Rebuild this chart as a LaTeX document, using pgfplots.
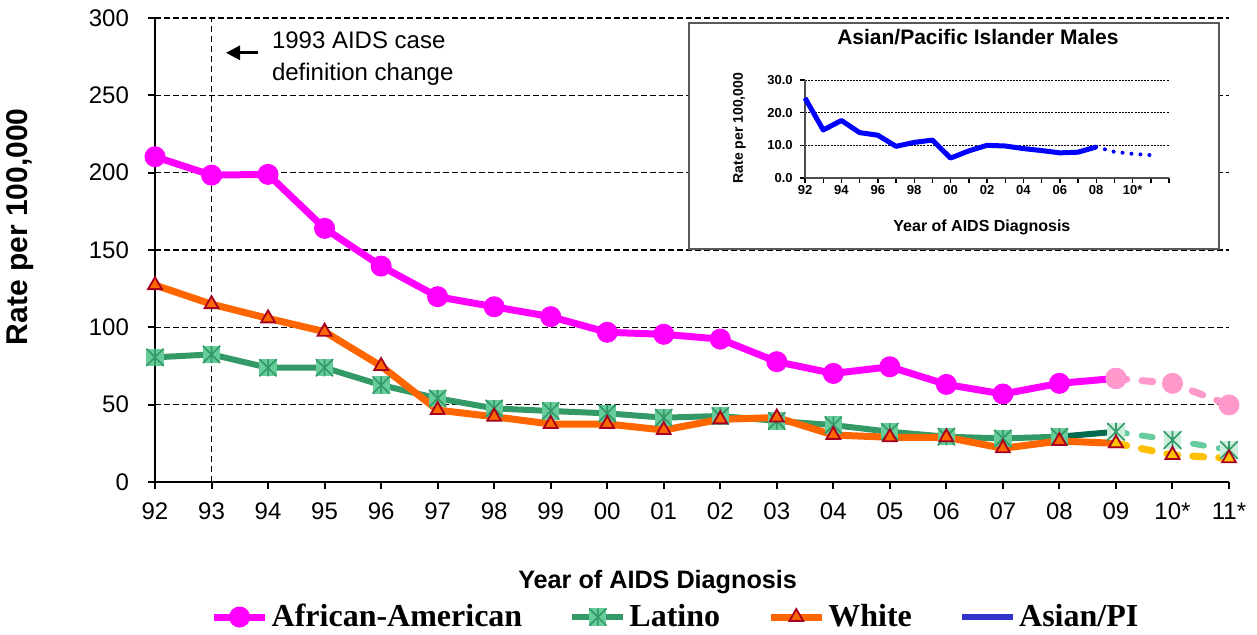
\documentclass[border=0pt]{standalone}
\usepackage{fontspec}
\setmainfont{Liberation Sans}
\newfontfamily\legendfont{Liberation Serif}
\usepackage{pgfplots}
\pgfplotsset{compat=1.18}
\usetikzlibrary{arrows.meta}

\definecolor{aa}{HTML}{FF00FF}
\definecolor{aap}{HTML}{FF99CC}
\definecolor{lat}{HTML}{339966}
\definecolor{latdk}{HTML}{006B4F}
\definecolor{latfill}{HTML}{66CC99}
\definecolor{latp}{HTML}{66CCA0}
\definecolor{latpfill}{HTML}{CCEEDD}
\definecolor{wht}{HTML}{FF6600}
\definecolor{whtp}{HTML}{FFC000}
\definecolor{tri}{HTML}{A50021}
\definecolor{api}{HTML}{0000FF}
\definecolor{apileg}{HTML}{3333CC}

% square with an asterisk in it (Excel style)
\pgfdeclareplotmark{sqast}{%
  \pgfpathrectangle{\pgfqpoint{-\pgfplotmarksize}{-\pgfplotmarksize}}{\pgfqpoint{2\pgfplotmarksize}{2\pgfplotmarksize}}%
  \pgfusepathqfill
  \pgfpathmoveto{\pgfqpoint{-\pgfplotmarksize}{-\pgfplotmarksize}}\pgfpathlineto{\pgfqpoint{\pgfplotmarksize}{\pgfplotmarksize}}%
  \pgfpathmoveto{\pgfqpoint{-\pgfplotmarksize}{\pgfplotmarksize}}\pgfpathlineto{\pgfqpoint{\pgfplotmarksize}{-\pgfplotmarksize}}%
  \pgfpathmoveto{\pgfqpoint{0pt}{-\pgfplotmarksize}}\pgfpathlineto{\pgfqpoint{0pt}{\pgfplotmarksize}}%
  \pgfusepathqstroke
}

\begin{document}
\begin{tikzpicture}
\useasboundingbox (-77.5pt,-76pt) rectangle (551pt,241pt);
\begin{axis}[
  scale only axis, width=537pt, height=232pt,
  xmin=0, xmax=19, ymin=0, ymax=300,
  clip=false,
  axis lines=left, axis line style={-, line width=1pt, black},
  xtick={0,...,19},
  xticklabels={92,93,94,95,96,97,98,99,00,01,02,03,04,05,06,07,08,09,10*,11*},
  ytick={0,50,...,300},
  ymajorgrids, grid style={black, line width=0.6pt, dash pattern=on 3pt off 1.5pt},
  tick align=outside, major tick length=3.5pt,
  tick style={black, line width=1pt},
  ticklabel style={font=\fontsize{12}{14}\selectfont},
  /pgf/number format/assume math mode=true,
  yticklabel style={xshift=-6pt},
  xticklabel style={yshift=-3.5pt},
  xlabel={Year of AIDS Diagnosis},
  xlabel style={at={(axis description cs:0.468,-0.2155)}, anchor=center, font=\fontsize{12.6}{14}\selectfont\bfseries},
  ylabel={Rate per 100,000},
  ylabel style={at={(axis description cs:-0.1257,0.55)}, anchor=center, rotate=0, font=\fontsize{15}{17}\selectfont\bfseries},
  legend style={at={(0.485,-0.291)}, anchor=center, draw=none, fill=none,
    legend columns=-1, font=\legendfont\fontsize{16}{18}\selectfont\bfseries,
    /tikz/every even column/.append style={column sep=22pt},
    nodes={inner sep=1.5pt}},
  legend image code/.code={
    \draw[mark repeat=2,mark phase=2,#1] plot coordinates {(0cm,0cm) (0.45cm,0cm) (0.9cm,0cm)};
  },
]
% 1993 definition change
\draw[black, line width=0.8pt, dash pattern=on 3pt off 2pt] (axis cs:1,0) -- (axis cs:1,300);

% African-American
\addplot[aa, line width=3.5pt, mark=*, mark size=5pt, mark options={solid, fill=aa, draw=aa, line width=0.5pt}]
  coordinates {(0,210.3) (1,198.4) (2,198.9) (3,164.0) (4,139.6) (5,119.8) (6,113.3) (7,106.9) (8,96.8) (9,95.5)
    (10,92.4) (11,77.8) (12,70.2) (13,74.5) (14,63.1) (15,56.9) (16,63.8) (17,67.0)};
\addlegendentry{African-American}
% Latino, last solid segment darker
\addplot[latdk, line width=3pt, forget plot] coordinates {(16,29.3) (17,32.5)};
\addplot[lat, line width=3pt, mark=sqast, mark size=4.3pt, mark options={solid, fill=latfill, draw=lat, line width=0.8pt}]
  coordinates {(0,80.6) (1,82.5) (2,73.9) (3,73.9) (4,62.7) (5,54.1) (6,47.6) (7,45.9) (8,44.4) (9,41.6)
    (10,42.7) (11,39.5) (12,36.8) (13,32.5) (14,29.3) (15,28.2) (16,29.3)};
\addlegendentry{Latino}
% White
\addplot[wht, line width=3.5pt, mark=triangle*, mark size=4pt, mark options={solid, fill=wht, draw=tri, line width=0.9pt}]
  coordinates {(0,127.3) (1,115.0) (2,105.8) (3,97.2) (4,75.0) (5,46.5) (6,42.2) (7,37.5) (8,37.5) (9,33.6)
    (10,40.5) (11,41.7) (12,30.4) (13,28.9) (14,28.9) (15,21.8) (16,26.5) (17,25.0)};
\addlegendentry{White}
\addlegendimage{apileg, line width=3pt, no marks}
\addlegendentry{Asian/PI}

% projected values
\addplot[aap, line width=3.5pt, line cap=round, dash pattern=on 5.5pt off 7.5pt, forget plot,
  mark=*, mark size=5pt, mark options={solid, fill=aap, draw=aap, line width=0.5pt}]
  coordinates {(17,67.0) (18,63.8) (19,49.8)};
\addplot[latp, line width=3pt, line cap=round, dash pattern=on 5.5pt off 7.5pt, forget plot,
  mark=sqast, mark size=4.3pt, mark options={solid, fill=latpfill, draw=lat, line width=0.8pt}]
  coordinates {(17,32.5) (18,27.1) (19,20.7)};
\addplot[whtp, line width=3.5pt, line cap=round, dash pattern=on 5.5pt off 7.5pt, forget plot,
  mark=triangle*, mark size=4pt, mark options={solid, fill=whtp, draw=tri, line width=0.9pt}]
  coordinates {(17,25.0) (18,17.5) (19,15.3)};
\end{axis}

% annotation
\draw[black, line width=1.4pt, -{Triangle[length=7pt,width=7pt]}] (51.5pt,214.6pt) -- (35.5pt,214.6pt);
\node[anchor=west, align=left, inner sep=0pt, font=\fontsize{12}{16}\selectfont] at (58.3pt,211.5pt)
  {1993 AIDS case\\definition change};

% inset frame
\draw[fill=white, draw=gray!70!black, line width=0.8pt] (267pt,116.5pt) rectangle (532pt,229.5pt);

\begin{axis}[
  at={(325pt,152pt)}, anchor=south west,
  scale only axis, width=182pt, height=49pt,
  xmin=0, xmax=20, ymin=0, ymax=30,
  clip=false,
  axis lines=left, axis line style={-, line width=0.7pt, gray!60!black},
  xtick={0,...,20},
  xticklabels={92,,94,,96,,98,,00,,02,,04,,06,,08,,10*,,},
  ytick={0,10,20,30}, yticklabels={0.0,10.0,20.0,30.0},
  ymajorgrids, grid style={black, line width=0.5pt, dash pattern=on 1pt off 0.6pt},
  tick align=outside, major tick length=2.5pt,
  tick style={black, line width=0.7pt},
  ticklabel style={font=\fontsize{6.5}{7}\selectfont\bfseries, inner sep=1pt},
  yticklabel style={xshift=-2.5pt},
  title={Asian/Pacific Islander Males},
  title style={at={(0.475,1.316)}, anchor=center, font=\fontsize{10.5}{12}\selectfont\bfseries},
  xlabel={Year of AIDS Diagnosis},
  xlabel style={at={(axis description cs:0.486,-0.5)}, anchor=center, font=\fontsize{8}{10}\selectfont\bfseries},
  ylabel={Rate per 100,000},
  ylabel style={at={(axis description cs:-0.18,0.51)}, anchor=center, rotate=0, font=\fontsize{7}{9}\selectfont\bfseries},
]
\addplot[api, line width=2.5pt, line join=round, no marks]
  coordinates {(0,24.5) (1,14.7) (2,17.6) (3,13.9) (4,13.1) (5,9.7) (6,10.9) (7,11.6) (8,6.1) (9,8.3)
    (10,10.0) (11,9.8) (12,9.0) (13,8.4) (14,7.7) (15,7.9) (16,9.5)};
\addplot[api, line width=2pt, line cap=round, dash pattern=on 0pt off 4.5pt, no marks]
  coordinates {(16,9.5) (17,8.0) (18,7.4) (19,7.0)};
\end{axis}
\end{tikzpicture}
\end{document}
